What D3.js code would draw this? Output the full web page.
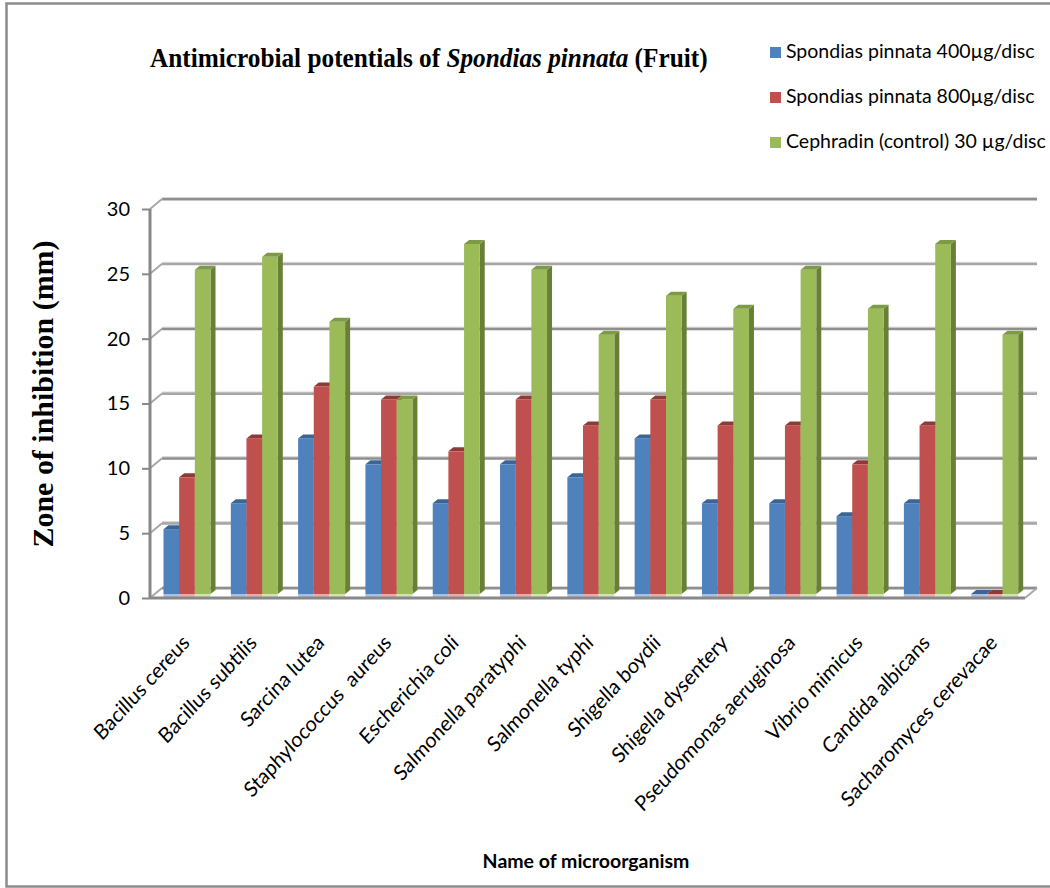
<!DOCTYPE html>
<html>
<head>
<meta charset="utf-8">
<script src="https://cdn.jsdelivr.net/npm/d3@7"></script>
<style>
  html, body { margin: 0; padding: 0; background: #fff; }
  svg { display: block; }
</style>
</head>
<body>
<svg id="chart" width="1050" height="888"></svg>
<script>
// Zone of inhibition (mm) per microorganism
const categories = [
  "Bacillus cereus", "Bacillus subtilis", "Sarcina lutea", "Staphylococcus  aureus",
  "Escherichia coli", "Salmonella paratyphi", "Salmonella typhi", "Shigella boydii",
  "Shigella dysentery", "Pseudomonas aeruginosa", "Vibrio mimicus", "Candida albicans",
  "Sacharomyces cerevacae"
];
const seriesNames = [
  "Spondias pinnata 400µg/disc",
  "Spondias pinnata 800µg/disc",
  "Cephradin (control) 30 µg/disc"
];
const dose400   = [5, 7, 12, 10, 7, 10, 9, 12, 7, 7, 6, 7, 0];
const dose800   = [9, 12, 16, 15, 11, 15, 13, 15, 13, 13, 10, 13, 0];
const cephradin = [25, 26, 21, 15, 27, 25, 20, 23, 22, 25, 22, 27, 20];
const yTicks = [0, 5, 10, 15, 20, 25, 30];

const seriesValues = [dose400, dose800, cephradin];

// face colours: front, top, side, floor reflection
const palette = [
  { front: "#4F81BD", top: "#3A6596", side: "#34598A", foot: "#A9C1E0" },
  { front: "#C0504D", top: "#8F3A37", side: "#8C3734", foot: "#E9ACAA" },
  { front: "#9BBB59", top: "#7D9A44", side: "#687F37", foot: "#D3E2B5" }
];

const svg = d3.select("#chart");
const sansFont = "Lato, 'Open Sans', sans-serif";
const serifFont = "'Liberation Serif', 'Times New Roman', serif";

// chart frame
svg.append("rect")
  .attr("x", 6.5).attr("y", 3.5).attr("width", 1060).attr("height", 883)
  .attr("fill", "none").attr("stroke", "#8C8C8C").attr("stroke-width", 2.5);

// 3D depth of the plot box
const depthX = 12, depthY = 10;
const x0 = 150, x1 = 1025;

const x = d3.scaleBand().domain(categories).range([x0, x1]);
const sub = d3.scaleBand().domain([0, 1, 2]).range([13.5, 60.5]);
const yFront = d3.scaleLinear().domain([0, 30]).range([598, 209]);
const yBack = d3.scaleLinear().domain([0, 30]).range([598 - depthY, 209 - depthY]);
const yBar = d3.scaleLinear().domain([0, 30]).range([594, 205]);

const axisColor = "#888888";
const grid = svg.append("g");

// back wall gridlines
grid.selectAll("line.grid").data(yTicks).join("line")
  .attr("class", "grid")
  .attr("x1", x0 + depthX).attr("x2", x1 + depthX)
  .attr("y1", d => yBack(d)).attr("y2", d => yBack(d))
  .attr("stroke", (d, i) => i % 2 ? "#A6A6A6" : "#8E8E8E").attr("stroke-width", 3);
grid.selectAll("line.gridhi").data(yTicks).join("line")
  .attr("class", "gridhi")
  .attr("x1", x0 + depthX).attr("x2", x1 + depthX)
  .attr("y1", d => yBack(d) - 1.5).attr("y2", d => yBack(d) - 1.5)
  .attr("stroke", "#D6D6D6").attr("stroke-width", 1);

// side wall diagonals
grid.selectAll("line.diag").data(yTicks).join("line")
  .attr("class", "diag")
  .attr("x1", x0).attr("x2", x0 + depthX)
  .attr("y1", d => yFront(d)).attr("y2", d => yBack(d))
  .attr("stroke", "#A8A8A8").attr("stroke-width", 2);

// floor right edge
grid.append("line")
  .attr("x1", x1).attr("y1", yFront(0)).attr("x2", x1 + depthX).attr("y2", yBack(0))
  .attr("stroke", "#A8A8A8").attr("stroke-width", 2);

// bars
const groups = svg.append("g").selectAll("g.cat").data(categories).join("g")
  .attr("class", "cat")
  .attr("transform", d => `translate(${x(d)},0)`);

const bw = sub.bandwidth();
const dx = 5, dy = 4;

groups.each(function(cat, ci) {
  const g = d3.select(this);
  seriesValues.forEach((vals, si) => {
    const v = vals[ci];
    const c = palette[si];
    const bx = sub(si);
    const top = yBar(v);
    const base = yBar(0);
    // side face
    g.append("path")
      .attr("d", `M${bx + bw},${top} L${bx + bw + dx},${top - dy} L${bx + bw + dx},${base - dy} L${bx + bw},${base} Z`)
      .attr("fill", c.side);
    // front face
    g.append("rect")
      .attr("x", bx).attr("y", top).attr("width", bw).attr("height", base - top)
      .attr("fill", c.front);
    // top face
    g.append("path")
      .attr("d", `M${bx},${top} L${bx + dx},${top - dy} L${bx + bw + dx},${top - dy} L${bx + bw},${top} Z`)
      .attr("fill", c.top);
    // floor reflection
    g.append("rect")
      .attr("x", bx).attr("y", base).attr("width", bw).attr("height", 3)
      .attr("fill", c.foot);
  });
});

// front axes
svg.append("line")
  .attr("x1", x0).attr("x2", x0).attr("y1", yFront(30)).attr("y2", yFront(0) + 1)
  .attr("stroke", axisColor).attr("stroke-width", 3);
svg.append("line")
  .attr("x1", x0).attr("x2", x1).attr("y1", yFront(0)).attr("y2", yFront(0))
  .attr("stroke", axisColor).attr("stroke-width", 3);

// y axis ticks and labels
const yAxis = d3.axisLeft(yFront).tickValues(yTicks).tickSize(8).tickPadding(12);
const yAxisG = svg.append("g").attr("transform", `translate(${x0},0)`).call(yAxis);
yAxisG.select(".domain").remove();
yAxisG.selectAll(".tick line").attr("stroke", axisColor).attr("stroke-width", 2);
yAxisG.selectAll(".tick text")
  .attr("font-family", sansFont).attr("font-size", 20).attr("fill", "#000");

// category labels, slanted
svg.append("g").selectAll("text.cat").data(categories).join("text")
  .attr("class", "cat")
  .attr("transform", d => `translate(${x(d) + x.bandwidth() / 2 + 7},${644}) scale(1,1.1) rotate(-45)`)
  .attr("text-anchor", "end")
  .style("white-space", "pre")
  .attr("font-family", sansFont).attr("font-size", 19.5).attr("fill", "#000")
  .text(d => d);

// title: bold serif, horizontally condensed to a fixed width
const titleG = svg.append("g");
const title = titleG.append("text")
  .attr("x", 0).attr("y", 0)
  .attr("font-family", serifFont).attr("font-weight", "bold").attr("font-size", 28);
title.append("tspan").text("Antimicrobial potentials of ");
title.append("tspan").attr("font-style", "italic").text("Spondias pinnata");
title.append("tspan").text(" (Fruit)");
const titleScale = 558 / title.node().getComputedTextLength();
titleG.attr("transform", `translate(150,67) scale(${titleScale},1)`);

// y axis title
svg.append("text")
  .attr("transform", "translate(53,394) rotate(-90)")
  .attr("text-anchor", "middle")
  .attr("font-family", serifFont).attr("font-weight", "bold").attr("font-size", 29)
  .attr("textLength", 307).attr("lengthAdjust", "spacingAndGlyphs")
  .text("Zone of inhibition (mm)");

// x axis title
svg.append("text")
  .attr("x", 586).attr("y", 868)
  .attr("text-anchor", "middle")
  .attr("font-family", sansFont).attr("font-weight", "bold").attr("font-size", 19.5)
  .text("Name of microorganism");

// legend
const legend = svg.append("g").selectAll("g.leg").data(seriesNames).join("g")
  .attr("class", "leg")
  .attr("transform", (d, i) => `translate(770,${58 + i * 45})`);
legend.append("rect")
  .attr("x", 0).attr("y", -11).attr("width", 11).attr("height", 11)
  .attr("fill", (d, i) => palette[i].front);
legend.append("text")
  .attr("x", 16).attr("y", 0)
  .attr("font-family", sansFont).attr("font-size", 19.5).attr("fill", "#000")
  .text(d => d);
</script>
</body>
</html>
